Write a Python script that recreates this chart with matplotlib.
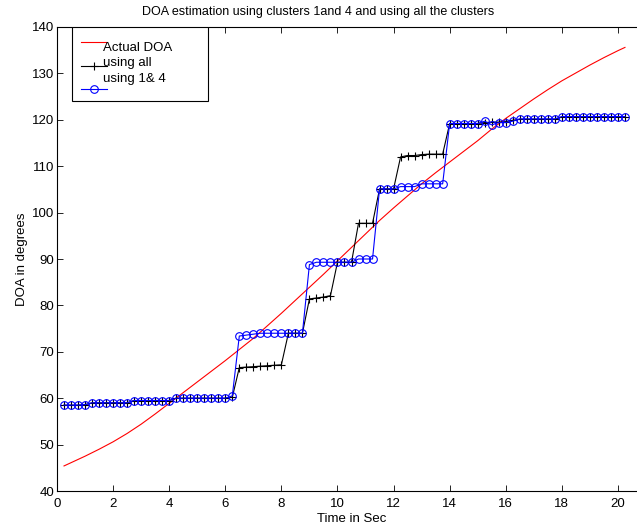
import numpy as np
import matplotlib
matplotlib.use("Agg")
import matplotlib.pyplot as plt
from matplotlib.patches import Rectangle

plt.rcParams['font.family'] = ['Liberation Sans', 'DejaVu Sans']

# ---------------- data ----------------
time = np.arange(0.25, 20.26, 0.25)  # sample times (s)

actual_t = [0.25, 0.5, 1.0, 1.5, 2.0, 2.5, 3.0, 3.5, 4.0, 4.5, 5.0, 5.5, 6.0,
            6.5, 7.0, 7.5, 8.0, 8.5, 9.0, 9.5, 10.0, 10.5, 11.0, 11.5, 12.0,
            12.5, 13.0, 13.5, 14.0, 14.5, 15.0, 15.5, 16.0, 16.5, 17.0, 17.5,
            18.0, 18.5, 19.0, 19.5, 20.0, 20.25]
actual_doa = [45.4, 46.1, 47.5, 49.0, 50.6, 52.4, 54.4, 56.6, 58.9, 61.2, 63.5,
              65.8, 68.1, 70.5, 72.9, 75.6, 78.3, 81.1, 83.9, 86.7, 89.6, 92.5,
              95.4, 98.3, 101.0, 103.6, 106.2, 108.6, 110.9, 113.2, 115.5,
              118.0, 120.3, 122.4, 124.5, 126.5, 128.4, 130.1, 131.8, 133.4,
              134.9, 135.6]

using_all = [58.5, 58.5, 58.5, 58.6,
             59.0, 59.0, 59.0, 59.0, 59.0, 59.0,
             59.5, 59.5, 59.5, 59.5, 59.5, 59.5,
             60.0, 60.0, 60.0, 60.0, 60.0, 60.0, 60.0, 60.0,
             60.2,
             66.6, 66.7, 66.8, 66.9, 67.0, 67.1, 67.2,
             74.0, 74.0, 74.0,
             81.4, 81.6, 81.8, 82.1,
             89.3, 89.3, 89.3,
             97.7, 97.7, 97.7,
             105.1, 105.1, 105.1,
             112.0, 112.3, 112.3, 112.5, 112.6, 112.6, 112.6,
             119.2, 119.2, 119.2, 119.2, 119.2,
             119.4, 119.5, 119.5, 119.6, 119.9,
             120.1, 120.1, 120.1, 120.1, 120.1, 120.1,
             120.6, 120.6, 120.6, 120.6, 120.6, 120.6, 120.6, 120.6, 120.6, 120.6]

using_1_4 = [58.5, 58.5, 58.5, 58.6,
             59.0, 59.0, 59.0, 59.0, 59.0, 59.0,
             59.5, 59.5, 59.5, 59.5, 59.5, 59.5,
             60.0, 60.0, 60.0, 60.0, 60.0, 60.0, 60.0, 60.0,
             60.5,
             73.4, 73.6, 73.8, 74.0, 74.0, 74.0, 74.0, 74.0, 74.0, 74.0,
             88.8,
             89.3, 89.3, 89.3, 89.3, 89.3, 89.3,
             90.0, 90.0, 90.0,
             105.1, 105.1, 105.1,
             105.6, 105.6, 105.6,
             106.2, 106.2, 106.2, 106.2,
             119.2, 119.2, 119.2, 119.2, 119.2,
             119.7, 118.9, 119.4, 119.4, 119.7,
             120.2, 120.2, 120.2, 120.2, 120.2, 120.2,
             120.7, 120.7, 120.7, 120.7, 120.7, 120.7, 120.7, 120.7, 120.7, 120.7]

legend_labels = ['Actual DOA', 'using all', 'using 1& 4']
title = 'DOA estimation using clusters 1and 4 and using all the clusters'
xlabel = 'Time in Sec'
ylabel = 'DOA in degrees'
xticks = [0, 2, 4, 6, 8, 10, 12, 14, 16, 18, 20]
yticks = [40, 50, 60, 70, 80, 90, 100, 110, 120, 130, 140]

FS = 9.5

# ---------------- figure ----------------
W, H = 637, 527
fig = plt.figure(figsize=(W / 100, H / 100), dpi=100)
ax_l, ax_r, ax_t, ax_b = 57, 646, 27, 491
ax = fig.add_axes([ax_l / W, (H - ax_b) / H, (ax_r - ax_l) / W, (ax_b - ax_t) / H])

ax.plot(actual_t, actual_doa, color='red', lw=0.8)
ax.plot(time, using_all, color='black', lw=0.8, marker='+', ms=6, mew=0.8)
ax.plot(time, using_1_4, color='blue', lw=0.8, marker='o', ms=5.5, mew=0.8,
        mfc='none')

ax.set_xlim(0, 21)
ax.set_ylim(40, 140)
ax.set_xticks(xticks)
ax.set_yticks(yticks)
ax.tick_params(direction='in', top=True, right=True, length=4, width=0.6,
               labelsize=FS)
ax.tick_params(axis='x', pad=5)
ax.tick_params(axis='y', pad=2)
for s in ax.spines.values():
    s.set_linewidth(0.8)

ax.set_xlabel(xlabel, fontsize=FS, labelpad=2)
ax.set_ylabel(ylabel, fontsize=FS, labelpad=3)
fig.text(0.5, 1 - 12 / H, title, ha='center', va='center', fontsize=9)

# ---------------- legend (MATLAB style, manual) ----------------
def fx(px):
    return (px - ax_l) / (ax_r - ax_l)

def fy(py):
    return (ax_b - py) / (ax_b - ax_t)

tr = ax.transAxes
ax.add_patch(Rectangle((fx(72), fy(101)), fx(208) - fx(72), fy(27) - fy(101),
                       transform=tr, facecolor='white', edgecolor='black',
                       lw=0.8, zorder=5))
# red entry
ax.plot([fx(81), fx(107)], [fy(42), fy(42)], color='red', lw=0.8,
        transform=tr, zorder=6)
ax.text(fx(103), fy(48.5), legend_labels[0], transform=tr, fontsize=FS,
        va='center', ha='left', zorder=7)
# black entry
ax.plot([fx(81), fx(107)], [fy(66.5), fy(66.5)], color='black', lw=0.8,
        transform=tr, zorder=6)
ax.plot([fx(93.5)], [fy(66.5)], color='black', marker='+', ms=6, mew=0.8,
        transform=tr, zorder=6)
ax.text(fx(103), fy(63), legend_labels[1], transform=tr, fontsize=FS,
        va='center', ha='left', zorder=7)
# blue entry
ax.text(fx(103), fy(79), legend_labels[2], transform=tr, fontsize=FS,
        va='center', ha='left', zorder=7)
ax.plot([fx(81), fx(107)], [fy(89), fy(89)], color='blue', lw=0.8,
        transform=tr, zorder=6)
ax.plot([fx(93.5)], [fy(89)], color='blue', marker='o', ms=5.5, mew=0.8,
        mfc='none', transform=tr, zorder=6)

fig.savefig('out.png', dpi=100)
